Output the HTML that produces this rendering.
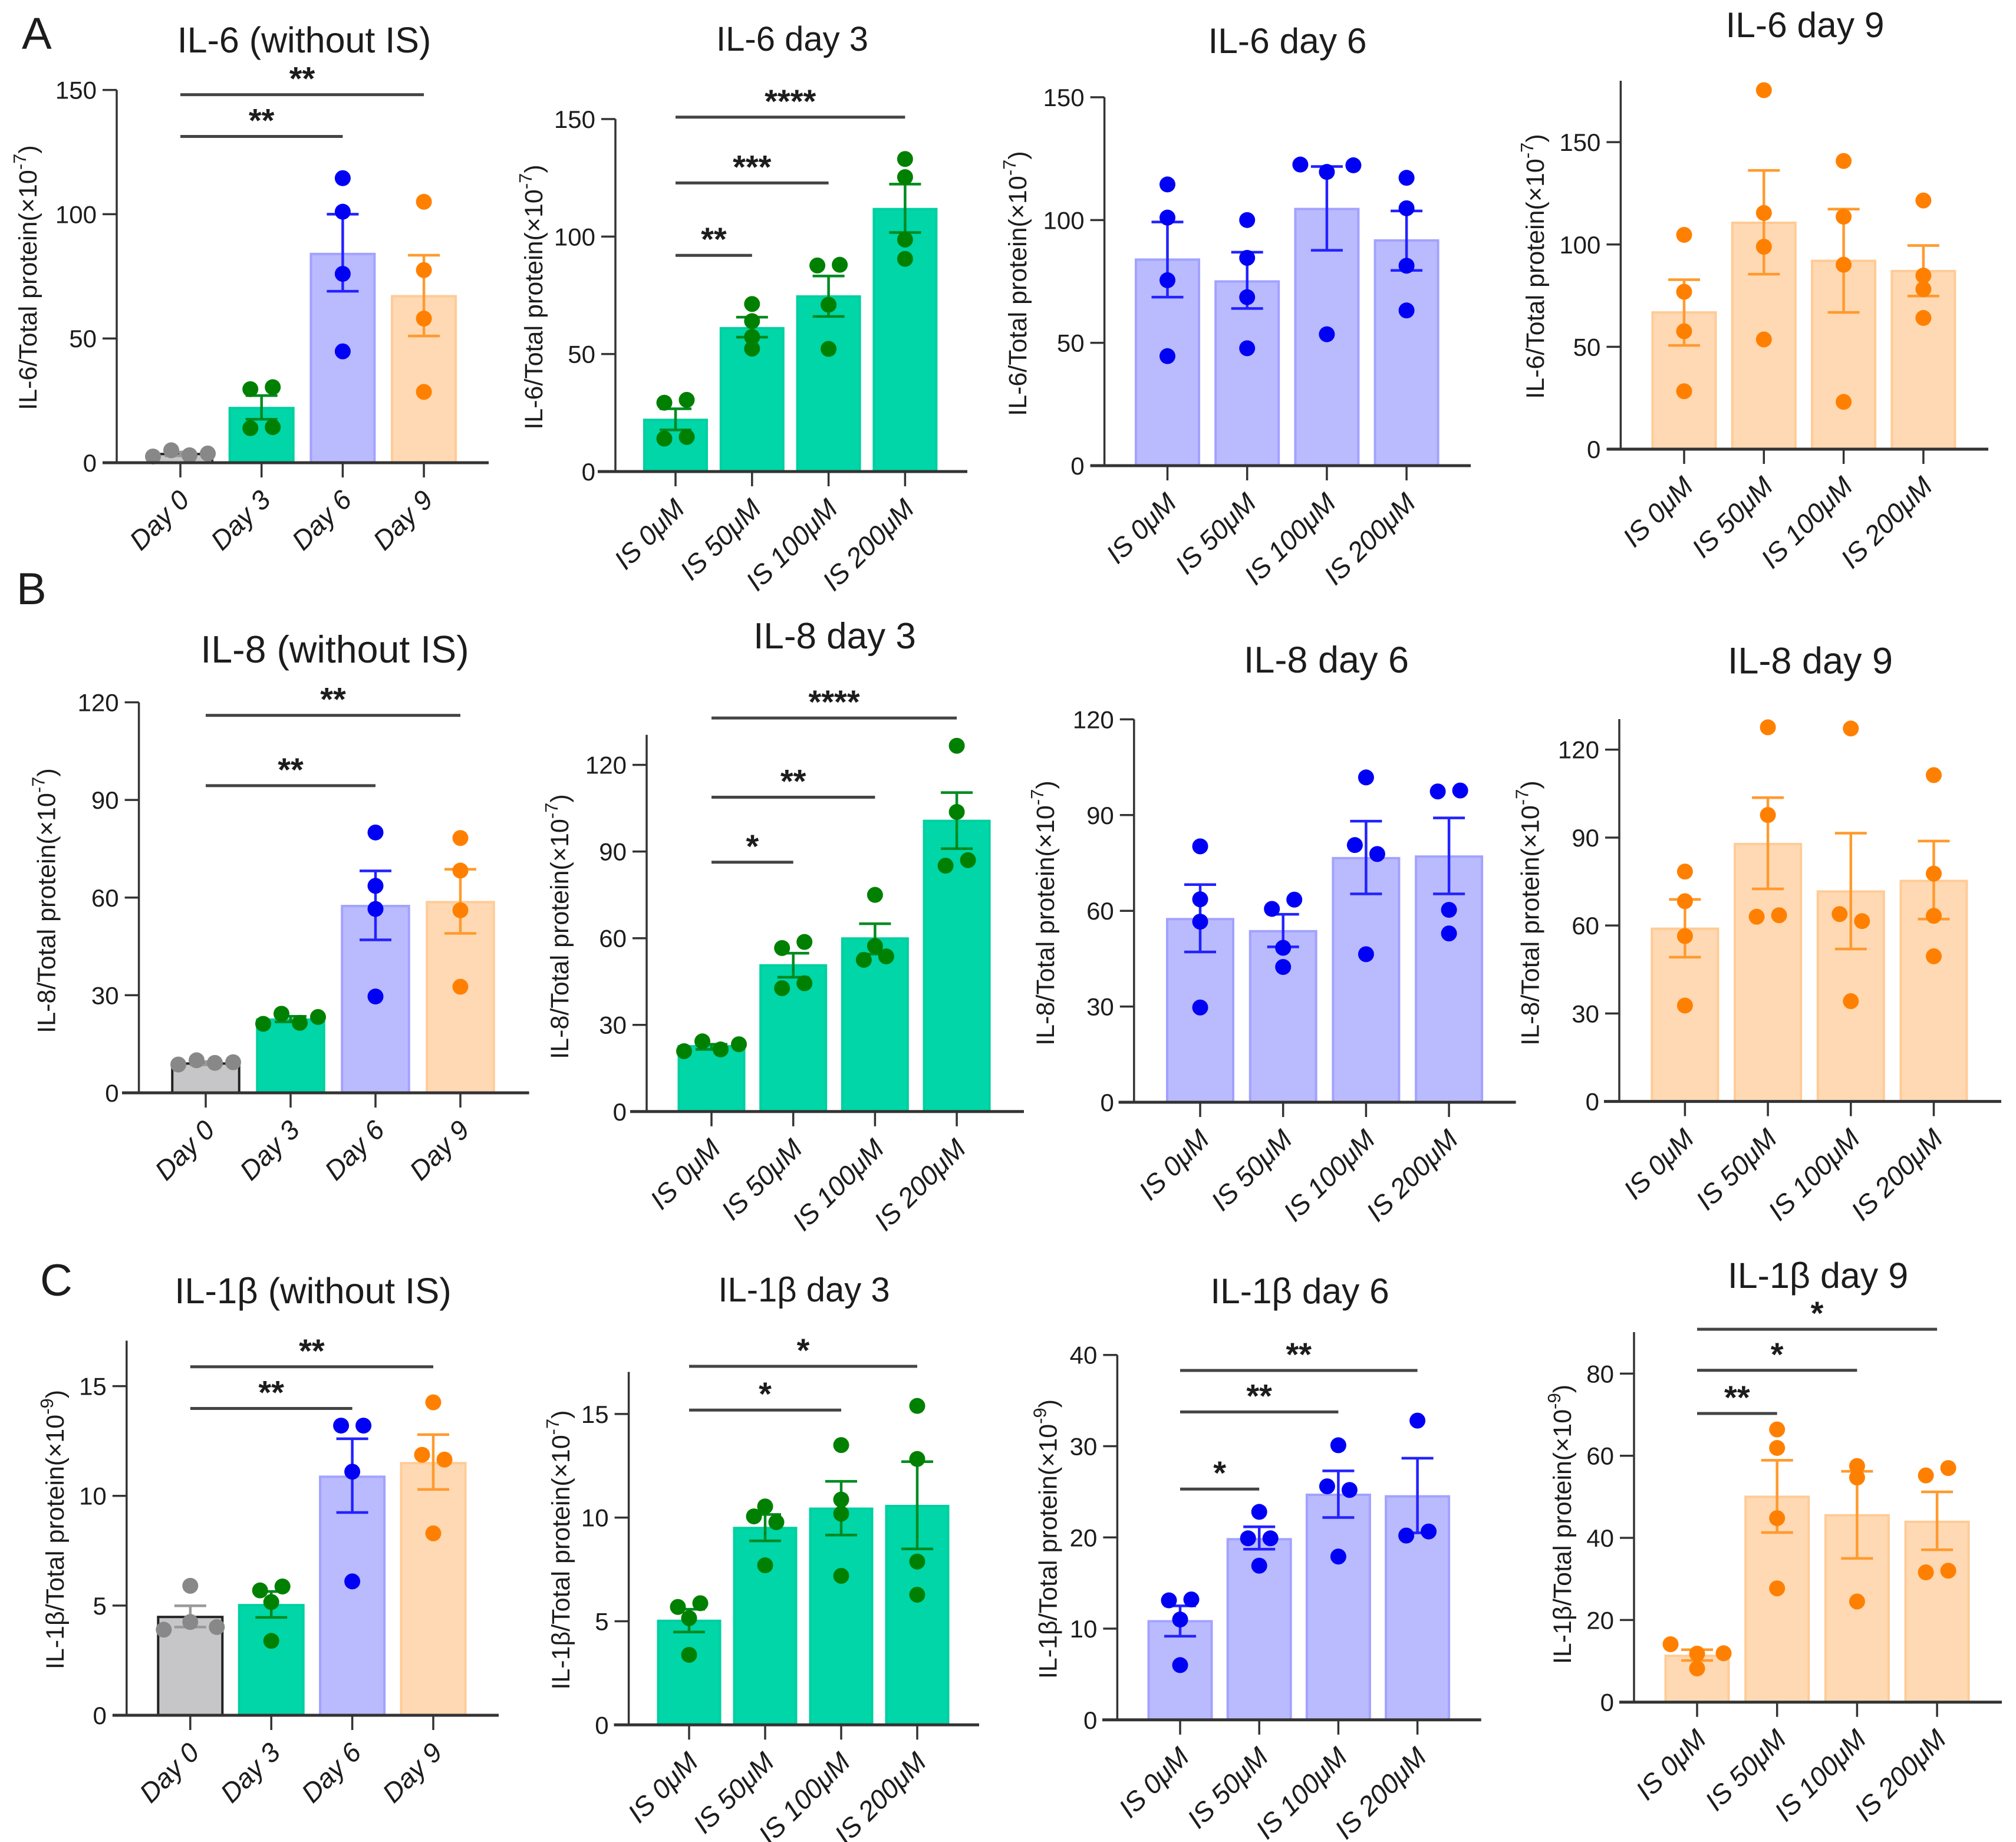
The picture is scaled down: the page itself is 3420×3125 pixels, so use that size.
<!DOCTYPE html>
<html lang="en">
<head>
<meta charset="utf-8">
<title>Cytokine levels by day and IS dose</title>
<style>
html,body{margin:0;padding:0;background:#fff}
svg{display:block}
text{font-family:"Liberation Sans",sans-serif;fill:#1c1c1c}
</style>
</head>
<body>
<svg id="figure" xmlns="http://www.w3.org/2000/svg" width="3420" height="3125" viewBox="0 0 3420 3125">
<rect width="3420" height="3125" fill="#fff"/>
<text x="37" y="83" font-size="76">A</text>
<text x="28" y="1025" font-size="76">B</text>
<text x="68" y="2198" font-size="76">C</text>
</svg>
<script>
// ---------- shared categories ----------
const dayLabels = ['Day 0', 'Day 3', 'Day 6', 'Day 9'];
const doseLabels = ['IS 0μM', 'IS 50μM', 'IS 100μM', 'IS 200μM'];

// ---------- IL-6 without IS ----------
const a1Ticks = [0, 50, 100, 150];
const a1Means = [3.5, 22, 84, 67];
const a1ErrHigh = [4.3, 27, 100, 83.5];
const a1ErrLow = [2.8, 17.5, 69, 51];
const a1Points = [[2.5, 5, 3, 3.7], [29.6, 30.4, 13.9, 14.3], [114.5, 101, 76, 44.8], [105, 77.5, 58, 28.5]];
const a1Sig = [[0, 3, 148.1, '**'], [0, 2, 131.3, '**']];

// ---------- IL-6 day 3 ----------
const a2Ticks = [0, 50, 100, 150];
const a2Means = [22, 61, 74.5, 111.7];
const a2ErrHigh = [26.7, 65.7, 83.2, 122.3];
const a2ErrLow = [17.7, 57.2, 66, 101.7];
const a2Points = [[29.3, 30.5, 14, 14.7], [71.3, 64, 57.3, 52.3], [87.7, 88, 71, 52.2], [133, 125.3, 98.7, 90.5]];
const a2Sig = [[0, 3, 150.8, '****'], [0, 2, 122.8, '***'], [0, 1, 92, '**']];

// ---------- IL-6 day 6 ----------
const a3Ticks = [0, 50, 100, 150];
const a3Means = [83.9, 75, 104.5, 91.7];
const a3ErrHigh = [99.2, 86.9, 121.8, 103.7];
const a3ErrLow = [68.6, 64, 87.7, 79.5];
const a3Points = [[114.5, 101, 75.5, 44.6], [100, 84.6, 68.6, 47.8], [122.6, 119.6, 122.3, 53.5], [117.2, 104.8, 81.4, 63.2]];
const a3Sig = [];

// ---------- IL-6 day 9 ----------
const a4Ticks = [0, 50, 100, 150];
const a4Means = [66.8, 110.6, 92, 87];
const a4ErrHigh = [82.8, 136.2, 117.3, 99.5];
const a4ErrLow = [50.7, 85.5, 66.8, 74.8];
const a4Points = [[104.7, 76.9, 57.6, 28.3], [175.4, 115.4, 98.9, 53.6], [140.8, 113.6, 90.1, 23.1], [121.5, 84.8, 78.2, 64.1]];
const a4Sig = [];

// ---------- IL-8 without IS ----------
const b1Ticks = [0, 30, 60, 90, 120];
const b1Means = [9, 22.5, 57.4, 58.6];
const b1ErrHigh = [9.6, 23.5, 68.2, 68.7];
const b1ErrLow = [8.6, 21.8, 47, 49];
const b1Points = [[8.7, 10, 9.2, 9.4], [21.2, 24.3, 21.5, 23.3], [80, 63.6, 56.5, 29.6], [78.3, 68.3, 56.1, 32.6]];
const b1Sig = [[0, 3, 116, '**'], [0, 2, 94.4, '**']];

// ---------- IL-8 day 3 ----------
const b2Ticks = [0, 30, 60, 90, 120];
const b2Means = [22.6, 50.6, 59.9, 100.6];
const b2ErrHigh = [23.3, 54.8, 65, 110.4];
const b2ErrLow = [21.5, 46.5, 54.5, 91];
const b2Points = [[20.9, 24.3, 21.5, 23.3], [56.6, 58.7, 42.7, 44.4], [75, 57.3, 52.5, 53.7], [126.6, 103.7, 85.1, 87]];
const b2Sig = [[0, 3, 136.2, '****'], [0, 2, 108.8, '**'], [0, 1, 86.3, '*']];

// ---------- IL-8 day 6 ----------
const b3Ticks = [0, 30, 60, 90, 120];
const b3Means = [57.4, 53.6, 76.5, 77];
const b3ErrHigh = [68.2, 58.9, 88.1, 89.1];
const b3ErrLow = [47.1, 48.7, 65.3, 65.3];
const b3Points = [[80.2, 63.6, 56.6, 29.7], [60.6, 63.5, 48.4, 42.4], [101.8, 80.6, 77.8, 46.4], [97.4, 97.7, 60.3, 52.9]];
const b3Sig = [];

// ---------- IL-8 day 9 ----------
const b4Ticks = [0, 30, 60, 90, 120];
const b4Means = [58.9, 87.8, 71.6, 75.2];
const b4ErrHigh = [68.9, 103.6, 91.5, 88.8];
const b4ErrLow = [49.2, 72.5, 52, 62.2];
const b4Points = [[78.4, 68.3, 56.4, 32.7], [127.6, 97.7, 63, 63.5], [127.2, 63.9, 61.5, 34.2], [111.3, 77.7, 63.3, 49.5]];
const b4Sig = [];

// ---------- IL-1β without IS ----------
const c1Ticks = [0, 5, 10, 15];
const c1Means = [4.48, 5.02, 10.87, 11.49];
const c1ErrHigh = [4.99, 5.64, 12.6, 12.79];
const c1ErrLow = [4.02, 4.46, 9.24, 10.29];
const c1Points = [[5.9, 3.9, 4.25, 4.02], [5.69, 5.87, 5.16, 3.39], [13.2, 13.2, 11.1, 6.1], [14.26, 11.87, 11.65, 8.29]];
const c1Sig = [[0, 3, 15.88, '**'], [0, 2, 13.98, '**']];

// ---------- IL-1β day 3 ----------
const c2Ticks = [0, 5, 10, 15];
const c2Means = [5.02, 9.5, 10.43, 10.56];
const c2ErrHigh = [5.58, 10.15, 11.75, 12.7];
const c2ErrLow = [4.48, 8.88, 9.16, 8.49];
const c2Points = [[5.69, 5.87, 5.15, 3.38], [10.54, 10.06, 9.78, 7.7], [13.5, 10.87, 10.19, 7.19], [15.39, 12.83, 7.88, 6.28]];
const c2Sig = [[0, 3, 17.3, '*'], [0, 2, 15.19, '*']];

// ---------- IL-1β day 6 ----------
const c3Ticks = [0, 10, 20, 30, 40];
const c3Means = [10.81, 19.8, 24.67, 24.5];
const c3ErrHigh = [12.5, 21.16, 27.29, 28.68];
const c3ErrLow = [9.17, 18.71, 22.18, 20.5];
const c3Points = [[13.1, 13.2, 11, 6], [22.8, 19.9, 19.9, 16.9], [30.1, 25.6, 25.2, 17.9], [32.8, 20.2, 20.65]];
const c3Sig = [[0, 3, 38.3, '**'], [0, 2, 33.75, '**'], [0, 1, 25.3, '*']];

// ---------- IL-1β day 9 ----------
const c4Ticks = [0, 20, 40, 60, 80];
const c4Means = [11.27, 50, 45.5, 43.9];
const c4ErrHigh = [12.77, 58.9, 56.2, 51.2];
const c4ErrLow = [10.14, 41.3, 35, 37.1];
const c4Points = [[14.1, 11.8, 11.9, 8.2], [66.4, 61.9, 44.8, 27.7], [57.5, 54.7, 24.5], [55.2, 57, 31.6, 32]];
const c4Sig = [[0, 3, 90.8, '*'], [0, 2, 80.8, '*'], [0, 1, 70.3, '**']];

// ---------- colour themes ----------
const THEME = {
  gray:   {fill: '#c6c6c9', stroke: '#222222', dot: '#888888', err: '#999999'},
  green:  {fill: '#00d6a8', stroke: '#00cfa0', dot: '#008000', err: '#008a20'},
  blue:   {fill: '#babaff', stroke: '#a2a2ff', dot: '#0000f5', err: '#2222ff'},
  orange: {fill: '#ffd9b3', stroke: '#ffcb96', dot: '#ff8000', err: '#ff9a2e'}
};
const trend = ['gray', 'green', 'blue', 'orange'];
const allGreen = ['green', 'green', 'green', 'green'];
const allBlue = ['blue', 'blue', 'blue', 'blue'];
const allOrange = ['orange', 'orange', 'orange', 'orange'];

// ---------- panel layouts (frame geometry only; all marks come from the arrays above) ----------
const panels = [
  {title:'IL-6 (without IS)', tx:516, ty:89, ts:61, yl:'IL-6', exp:'7', ylx:47, yly:471, cats:dayLabels, themes:trend, ticks:a1Ticks, means:a1Means, hi:a1ErrHigh, lo:a1ErrLow, pts:a1Points, sig:a1Sig, ax:198, y0:785, yTop:152.6, dom:150, c0:306, step:137.7, bw:108, xa:[174,829]},
  {title:'IL-6 day 3', tx:1344, ty:86, ts:58, yl:'IL-6', exp:'7', ylx:905, yly:504, cats:doseLabels, themes:allGreen, ticks:a2Ticks, means:a2Means, hi:a2ErrHigh, lo:a2ErrLow, pts:a2Points, sig:a2Sig, ax:1044, y0:800, yTop:202, dom:150, c0:1146, step:129.8, bw:106, xa:[1014,1641]},
  {title:'IL-6 day 6', tx:2184, ty:90, ts:60.5, yl:'IL-6', exp:'7', ylx:1726, yly:481, cats:doseLabels, themes:allBlue, ticks:a3Ticks, means:a3Means, hi:a3ErrHigh, lo:a3ErrLow, pts:a3Points, sig:a3Sig, ax:1873.6, y0:790, yTop:165, dom:150, c0:1980.5, step:135.2, bw:107, xa:[1849.6,2495]},
  {title:'IL-6 day 9', tx:3062, ty:63, ts:60.5, yl:'IL-6', exp:'7', ylx:2604, yly:452, cats:doseLabels, themes:allOrange, ticks:a4Ticks, means:a4Means, hi:a4ErrHigh, lo:a4ErrLow, pts:a4Points, sig:a4Sig, ax:2749.4, y0:762, yTop:137, dom:180, c0:2857, step:135.3, bw:107, xa:[2726,3373]},
  {title:'IL-8 (without IS)', tx:568, ty:1124, ts:64.5, yl:'IL-8', exp:'7', ylx:78.5, yly:1528, cats:dayLabels, themes:trend, ticks:b1Ticks, means:b1Means, hi:b1ErrHigh, lo:b1ErrLow, pts:b1Points, sig:b1Sig, ax:235.6, y0:1854, yTop:1191.5, dom:120, c0:349, step:144, bw:113.5, xa:[207,897.6]},
  {title:'IL-8 day 3', tx:1416, ty:1100, ts:62, yl:'IL-8', exp:'7', ylx:949, yly:1572, cats:doseLabels, themes:allGreen, ticks:b2Ticks, means:b2Means, hi:b2ErrHigh, lo:b2ErrLow, pts:b2Points, sig:b2Sig, ax:1097, y0:1885.8, yTop:1246.6, dom:130.4, c0:1207, step:138.7, bw:111, xa:[1069,1737]},
  {title:'IL-8 day 6', tx:2250, ty:1141, ts:63, yl:'IL-8', exp:'7', ylx:1773, yly:1549, cats:doseLabels, themes:allBlue, ticks:b3Ticks, means:b3Means, hi:b3ErrHigh, lo:b3ErrLow, pts:b3Points, sig:b3Sig, ax:1923.8, y0:1870, yTop:1220.4, dom:120, c0:2036, step:140.7, bw:112, xa:[1897.6,2571.6]},
  {title:'IL-8 day 9', tx:3071, ty:1142.6, ts:63, yl:'IL-8', exp:'7', ylx:2595.6, yly:1549, cats:doseLabels, themes:allOrange, ticks:b4Ticks, means:b4Means, hi:b4ErrHigh, lo:b4ErrLow, pts:b4Points, sig:b4Sig, ax:2747, y0:1868.6, yTop:1220, dom:130.4, c0:2858.4, step:140.7, bw:112, xa:[2721,3395]},
  {title:'IL-1β (without IS)', tx:531, ty:2211, ts:61.5, yl:'IL-1β', exp:'9', ylx:93, yly:2595, cats:dayLabels, themes:trend, ticks:c1Ticks, means:c1Means, hi:c1ErrHigh, lo:c1ErrLow, pts:c1Points, sig:c1Sig, ax:214.8, y0:2910, yTop:2274.5, dom:17.07, c0:322.8, step:137.4, bw:109, xa:[191,846]},
  {title:'IL-1β day 3', tx:1364, ty:2208, ts:58, yl:'IL-1β', exp:'7', ylx:951, yly:2629.5, cats:doseLabels, themes:allGreen, ticks:c2Ticks, means:c2Means, hi:c2ErrHigh, lo:c2ErrLow, pts:c2Points, sig:c2Sig, ax:1066.6, y0:2926.3, yTop:2327.5, dom:17.03, c0:1169, step:129, bw:105, xa:[1041.5,1661]},
  {title:'IL-1β day 6', tx:2205, ty:2211, ts:60.4, yl:'IL-1β', exp:'9', ylx:1777.6, yly:2611, cats:doseLabels, themes:allBlue, ticks:c3Ticks, means:c3Means, hi:c3ErrHigh, lo:c3ErrLow, pts:c3Points, sig:c3Sig, ax:1895.4, y0:2917.8, yTop:2298.7, dom:40, c0:2002, step:134.2, bw:107, xa:[1870,2512.7]},
  {title:'IL-1β day 9', tx:3084, ty:2185, ts:61, yl:'IL-1β', exp:'9', ylx:2650, yly:2586, cats:doseLabels, themes:allOrange, ticks:c4Ticks, means:c4Means, hi:c4ErrHigh, lo:c4ErrLow, pts:c4Points, sig:c4Sig, ax:2772, y0:2887.7, yTop:2260, dom:90.1, c0:2879, step:135.7, bw:107, xa:[2747,3396]}
];

const SVG_NS = 'http://www.w3.org/2000/svg';
const root = document.getElementById('figure');
const DOT_R = 13.5;
const AXIS = '#333333';

function make(tag, attrs, parent) {
  const el = document.createElementNS(SVG_NS, tag);
  for (const k in attrs) el.setAttribute(k, attrs[k]);
  parent.appendChild(el);
  return el;
}

// Prism-style swarm: values closer than a dot's reach are spread sideways.
function swarmOffsets(values, yFn) {
  const spread = {1: 0, 2: 38, 3: 45, 4: 31};
  const order = values.map((v, i) => i).sort((a, b) => yFn(values[a]) - yFn(values[b]));
  const groups = [];
  order.forEach((idx, n) => {
    if (n && Math.abs(yFn(values[idx]) - yFn(values[order[n - 1]])) < 16) groups[groups.length - 1].push(idx);
    else groups.push([idx]);
  });
  const offs = values.map(() => 0);
  groups.forEach(g => {
    g.sort((a, b) => a - b);
    g.forEach((idx, k) => { offs[idx] = (spread[g.length] || 31) * (k - (g.length - 1) / 2); });
  });
  return offs;
}

panels.forEach(p => {
  const xScale = i => p.c0 + i * p.step;
  const yScale = v => p.y0 - v * (p.y0 - p.yTop) / p.dom;

  const g = make('g', {}, root);
  
  

  const title = make('text', {x: p.tx, y: p.ty, 'font-size': p.ts, 'text-anchor': 'middle'}, g);
  title.textContent = p.title;
  
  

  const yTitle = make('text', {'font-size': 43, 'text-anchor': 'middle', transform: 'translate(' + (p.ylx + 15) + ',' + p.yly + ') rotate(-90)'}, g);
  
  
  yTitle.appendChild(document.createTextNode(p.yl + '/Total protein(×10'));
  const sup = make('tspan', {dy: -18, 'font-size': 31}, yTitle);
  sup.textContent = '-' + p.exp;
  const close = make('tspan', {dy: 18}, yTitle);
  close.textContent = ')';

  // bars, error bars, points
  p.means.forEach((m, i) => {
    const t = THEME[p.themes[i]];
    const bar = make('rect', {x: xScale(i) - p.bw / 2, y: yScale(m), width: p.bw, height: p.y0 - yScale(m), fill: t.fill, stroke: t.stroke, 'stroke-width': 4}, g);
    
    

    const errStem = make('line', {x1: xScale(i), x2: xScale(i), y1: yScale(p.hi[i]), y2: yScale(p.lo[i]), stroke: t.err, 'stroke-width': 4.5}, g);
    
    
    const capHi = make('line', {x1: xScale(i) - 27, x2: xScale(i) + 27, y1: yScale(p.hi[i]), y2: yScale(p.hi[i]), stroke: t.err, 'stroke-width': 4.5}, g);
    
    
    const capLo = make('line', {x1: xScale(i) - 27, x2: xScale(i) + 27, y1: yScale(p.lo[i]), y2: yScale(p.lo[i]), stroke: t.err, 'stroke-width': 4.5}, g);
    
    

    const offs = swarmOffsets(p.pts[i], yScale);
    p.pts[i].forEach((v, k) => {
      const dot = make('circle', {cx: xScale(i) + offs[k], cy: yScale(v), r: DOT_R, fill: t.dot}, g);
      
      
    });
  });

  // axes
  const yAxis = make('line', {x1: p.ax, x2: p.ax, y1: p.yTop, y2: p.y0, stroke: AXIS, 'stroke-width': 3.5}, g);
  
  
  const xAxis = make('line', {x1: p.xa[0], x2: p.xa[1], y1: p.y0, y2: p.y0, stroke: AXIS, 'stroke-width': 5}, g);
  
  

  p.ticks.forEach(v => {
    const tick = make('line', {x1: p.ax - 24, x2: p.ax, y1: yScale(v), y2: yScale(v), stroke: AXIS, 'stroke-width': 3.5}, g);
    
    
    const lab = make('text', {x: p.ax - 34, y: yScale(v) + 15, 'font-size': 42, 'text-anchor': 'end'}, g);
    lab.textContent = v;
    
    
  });

  p.cats.forEach((c, i) => {
    const tick = make('line', {x1: xScale(i), x2: xScale(i), y1: p.y0, y2: p.y0 + 25, stroke: AXIS, 'stroke-width': 3.5}, g);
    
    
    const lab = make('text', {'font-size': 46, 'font-style': 'italic', 'text-anchor': 'end', transform: 'translate(' + (xScale(i) + 18) + ',' + (p.y0 + 66) + ') rotate(-45)'}, g);
    lab.textContent = c;
    
    
  });

  // significance brackets
  p.sig.forEach(s => {
    const line = make('line', {x1: xScale(s[0]), x2: xScale(s[1]), y1: yScale(s[2]), y2: yScale(s[2]), stroke: '#444444', 'stroke-width': 5}, g);
    
    
    const star = make('text', {x: (xScale(s[0]) + xScale(s[1])) / 2, y: yScale(s[2]) - 8, 'font-size': 56, 'font-weight': 'bold', 'text-anchor': 'middle'}, g);
    star.textContent = s[3];
    
    
  });
});
</script>
</body>
</html>
